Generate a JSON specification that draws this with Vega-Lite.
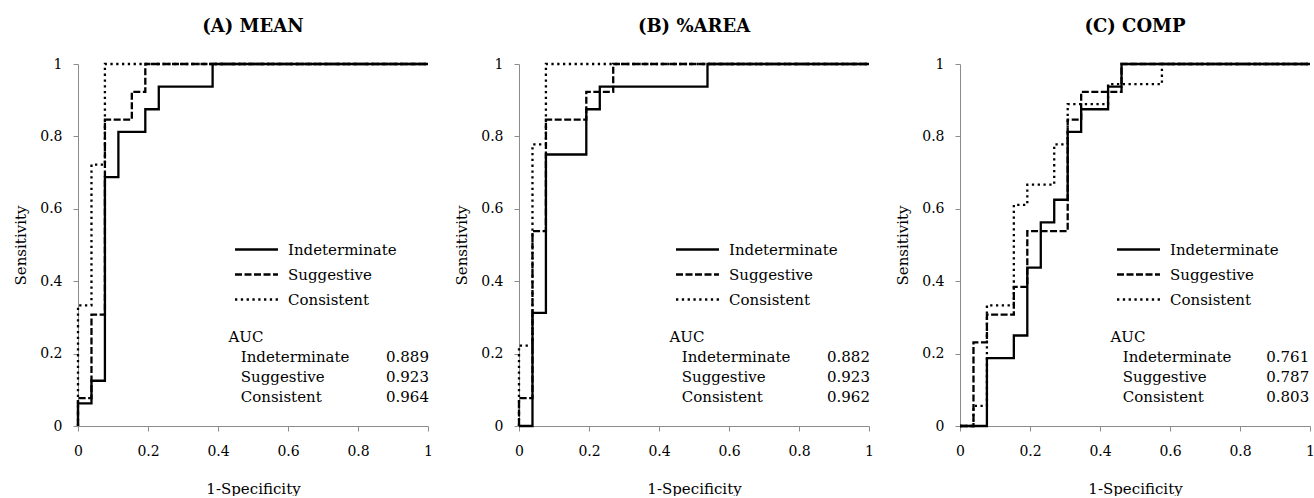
{
  "$schema": "https://vega.github.io/schema/vega-lite/v6.json",
  "padding": {"left": 13, "top": 18, "right": 0, "bottom": 0},
  "background": "white",
  "datasets": {
    "roc": [
      {"p": "A", "g": "Indeterminate", "fpr": 0, "tpr": 0},
      {"p": "A", "g": "Indeterminate", "fpr": 0, "tpr": 0.0625},
      {"p": "A", "g": "Indeterminate", "fpr": 0.0385, "tpr": 0.125},
      {"p": "A", "g": "Indeterminate", "fpr": 0.0769, "tpr": 0.6875},
      {"p": "A", "g": "Indeterminate", "fpr": 0.1154, "tpr": 0.8125},
      {"p": "A", "g": "Indeterminate", "fpr": 0.1923, "tpr": 0.875},
      {"p": "A", "g": "Indeterminate", "fpr": 0.2308, "tpr": 0.9375},
      {"p": "A", "g": "Indeterminate", "fpr": 0.3846, "tpr": 1},
      {"p": "A", "g": "Indeterminate", "fpr": 1, "tpr": 1},
      {"p": "A", "g": "Suggestive", "fpr": 0, "tpr": 0},
      {"p": "A", "g": "Suggestive", "fpr": 0, "tpr": 0.0769},
      {"p": "A", "g": "Suggestive", "fpr": 0.0385, "tpr": 0.3077},
      {"p": "A", "g": "Suggestive", "fpr": 0.0769, "tpr": 0.8462},
      {"p": "A", "g": "Suggestive", "fpr": 0.1538, "tpr": 0.9231},
      {"p": "A", "g": "Suggestive", "fpr": 0.1923, "tpr": 1},
      {"p": "A", "g": "Suggestive", "fpr": 1, "tpr": 1},
      {"p": "A", "g": "Consistent", "fpr": 0, "tpr": 0},
      {"p": "A", "g": "Consistent", "fpr": 0, "tpr": 0.3333},
      {"p": "A", "g": "Consistent", "fpr": 0.0385, "tpr": 0.7222},
      {"p": "A", "g": "Consistent", "fpr": 0.0769, "tpr": 1},
      {"p": "A", "g": "Consistent", "fpr": 1, "tpr": 1},
      {"p": "B", "g": "Indeterminate", "fpr": 0, "tpr": 0},
      {"p": "B", "g": "Indeterminate", "fpr": 0.0385, "tpr": 0.3125},
      {"p": "B", "g": "Indeterminate", "fpr": 0.0769, "tpr": 0.75},
      {"p": "B", "g": "Indeterminate", "fpr": 0.1923, "tpr": 0.875},
      {"p": "B", "g": "Indeterminate", "fpr": 0.2308, "tpr": 0.9375},
      {"p": "B", "g": "Indeterminate", "fpr": 0.5385, "tpr": 1},
      {"p": "B", "g": "Indeterminate", "fpr": 1, "tpr": 1},
      {"p": "B", "g": "Suggestive", "fpr": 0, "tpr": 0},
      {"p": "B", "g": "Suggestive", "fpr": 0, "tpr": 0.0769},
      {"p": "B", "g": "Suggestive", "fpr": 0.0385, "tpr": 0.5385},
      {"p": "B", "g": "Suggestive", "fpr": 0.0769, "tpr": 0.8462},
      {"p": "B", "g": "Suggestive", "fpr": 0.1923, "tpr": 0.9231},
      {"p": "B", "g": "Suggestive", "fpr": 0.2692, "tpr": 1},
      {"p": "B", "g": "Suggestive", "fpr": 1, "tpr": 1},
      {"p": "B", "g": "Consistent", "fpr": 0, "tpr": 0},
      {"p": "B", "g": "Consistent", "fpr": 0, "tpr": 0.2222},
      {"p": "B", "g": "Consistent", "fpr": 0.0385, "tpr": 0.7778},
      {"p": "B", "g": "Consistent", "fpr": 0.0769, "tpr": 1},
      {"p": "B", "g": "Consistent", "fpr": 1, "tpr": 1},
      {"p": "C", "g": "Indeterminate", "fpr": 0, "tpr": 0},
      {"p": "C", "g": "Indeterminate", "fpr": 0.0769, "tpr": 0.1875},
      {"p": "C", "g": "Indeterminate", "fpr": 0.1538, "tpr": 0.25},
      {"p": "C", "g": "Indeterminate", "fpr": 0.1923, "tpr": 0.4375},
      {"p": "C", "g": "Indeterminate", "fpr": 0.2308, "tpr": 0.5625},
      {"p": "C", "g": "Indeterminate", "fpr": 0.2692, "tpr": 0.625},
      {"p": "C", "g": "Indeterminate", "fpr": 0.3077, "tpr": 0.8125},
      {"p": "C", "g": "Indeterminate", "fpr": 0.3462, "tpr": 0.875},
      {"p": "C", "g": "Indeterminate", "fpr": 0.4231, "tpr": 0.9375},
      {"p": "C", "g": "Indeterminate", "fpr": 0.4615, "tpr": 1},
      {"p": "C", "g": "Indeterminate", "fpr": 1, "tpr": 1},
      {"p": "C", "g": "Suggestive", "fpr": 0, "tpr": 0},
      {"p": "C", "g": "Suggestive", "fpr": 0.0385, "tpr": 0.2308},
      {"p": "C", "g": "Suggestive", "fpr": 0.0769, "tpr": 0.3077},
      {"p": "C", "g": "Suggestive", "fpr": 0.1538, "tpr": 0.3846},
      {"p": "C", "g": "Suggestive", "fpr": 0.1923, "tpr": 0.5385},
      {"p": "C", "g": "Suggestive", "fpr": 0.3077, "tpr": 0.8462},
      {"p": "C", "g": "Suggestive", "fpr": 0.3462, "tpr": 0.9231},
      {"p": "C", "g": "Suggestive", "fpr": 0.4615, "tpr": 1},
      {"p": "C", "g": "Suggestive", "fpr": 1, "tpr": 1},
      {"p": "C", "g": "Consistent", "fpr": 0, "tpr": 0},
      {"p": "C", "g": "Consistent", "fpr": 0.0385, "tpr": 0.0556},
      {"p": "C", "g": "Consistent", "fpr": 0.0769, "tpr": 0.3333},
      {"p": "C", "g": "Consistent", "fpr": 0.1538, "tpr": 0.6111},
      {"p": "C", "g": "Consistent", "fpr": 0.1923, "tpr": 0.6667},
      {"p": "C", "g": "Consistent", "fpr": 0.2692, "tpr": 0.7778},
      {"p": "C", "g": "Consistent", "fpr": 0.3077, "tpr": 0.8889},
      {"p": "C", "g": "Consistent", "fpr": 0.4231, "tpr": 0.9444},
      {"p": "C", "g": "Consistent", "fpr": 0.5769, "tpr": 1},
      {"p": "C", "g": "Consistent", "fpr": 1, "tpr": 1}
    ],
    "auc": [
      {"p": "A", "name": "Indeterminate", "auc": "0.889"},
      {"p": "A", "name": "Suggestive", "auc": "0.923"},
      {"p": "A", "name": "Consistent", "auc": "0.964"},
      {"p": "B", "name": "Indeterminate", "auc": "0.882"},
      {"p": "B", "name": "Suggestive", "auc": "0.923"},
      {"p": "B", "name": "Consistent", "auc": "0.962"},
      {"p": "C", "name": "Indeterminate", "auc": "0.761"},
      {"p": "C", "name": "Suggestive", "auc": "0.787"},
      {"p": "C", "name": "Consistent", "auc": "0.803"}
    ],
    "head": [{"name": "AUC"}]
  },
  "spacing": 91,
  "bounds": "flush",
  "resolve": {
    "scale": {"strokeDash": "independent"},
    "legend": {"strokeDash": "independent"}
  },
  "hconcat": [
    {
      "width": 350,
      "height": 362,
      "title": {"text": "(A) MEAN"},
      "resolve": {"scale": {"y": "independent"}},
      "layer": [
        {
          "data": {"name": "roc"},
          "transform": [{"filter": "datum.p === 'A'"}],
          "mark": {"type": "line", "interpolate": "step-after", "color": "black", "strokeWidth": 2.3},
          "encoding": {
            "x": {"field": "fpr", "type": "quantitative", "title": "1-Specificity", "scale": {"domain": [0, 1]}, "axis": {"values": [0, 0.2, 0.4, 0.6, 0.8, 1]}},
            "y": {"field": "tpr", "type": "quantitative", "title": "Sensitivity", "scale": {"domain": [0, 1]}, "axis": {"values": [0, 0.2, 0.4, 0.6, 0.8, 1]}},
            "strokeDash": {"field": "g", "type": "nominal", "scale": {"domain": ["Indeterminate", "Suggestive", "Consistent"], "range": [[1, 0], [7, 2.5], [2.3, 3.5]]}},
            "order": [{"field": "fpr"}, {"field": "tpr"}]
          }
        },
        {
          "data": {"name": "head"},
          "mark": {"type": "text", "align": "left", "baseline": "middle", "font": "DejaVu Serif", "fontSize": 15},
          "encoding": {
            "x": {"datum": 0.43},
            "y": {"field": "name", "type": "nominal", "axis": null, "scale": {"type": "point", "padding": 0, "domain": ["AUC", "Indeterminate", "Suggestive", "Consistent"], "range": [273, 333]}},
            "text": {"field": "name"}
          }
        },
        {
          "data": {"name": "auc"},
          "transform": [{"filter": "datum.p === 'A'"}],
          "mark": {"type": "text", "align": "left", "baseline": "middle", "font": "DejaVu Serif", "fontSize": 15},
          "encoding": {
            "x": {"datum": 0.465},
            "y": {"field": "name", "type": "nominal", "axis": null, "scale": {"type": "point", "padding": 0, "domain": ["AUC", "Indeterminate", "Suggestive", "Consistent"], "range": [273, 333]}},
            "text": {"field": "name"}
          }
        },
        {
          "data": {"name": "auc"},
          "transform": [{"filter": "datum.p === 'A'"}],
          "mark": {"type": "text", "align": "left", "baseline": "middle", "font": "DejaVu Serif", "fontSize": 15},
          "encoding": {
            "x": {"datum": 0.88},
            "y": {"field": "name", "type": "nominal", "axis": null, "scale": {"type": "point", "padding": 0, "domain": ["AUC", "Indeterminate", "Suggestive", "Consistent"], "range": [273, 333]}},
            "text": {"field": "auc"}
          }
        }
      ]
    },
    {
      "width": 350,
      "height": 362,
      "title": {"text": "(B) %AREA"},
      "resolve": {"scale": {"y": "independent"}},
      "layer": [
        {
          "data": {"name": "roc"},
          "transform": [{"filter": "datum.p === 'B'"}],
          "mark": {"type": "line", "interpolate": "step-after", "color": "black", "strokeWidth": 2.3},
          "encoding": {
            "x": {"field": "fpr", "type": "quantitative", "title": "1-Specificity", "scale": {"domain": [0, 1]}, "axis": {"values": [0, 0.2, 0.4, 0.6, 0.8, 1]}},
            "y": {"field": "tpr", "type": "quantitative", "title": "Sensitivity", "scale": {"domain": [0, 1]}, "axis": {"values": [0, 0.2, 0.4, 0.6, 0.8, 1]}},
            "strokeDash": {"field": "g", "type": "nominal", "scale": {"domain": ["Indeterminate", "Suggestive", "Consistent"], "range": [[1, 0], [7, 2.5], [2.3, 3.5]]}},
            "order": [{"field": "fpr"}, {"field": "tpr"}]
          }
        },
        {
          "data": {"name": "head"},
          "mark": {"type": "text", "align": "left", "baseline": "middle", "font": "DejaVu Serif", "fontSize": 15},
          "encoding": {
            "x": {"datum": 0.43},
            "y": {"field": "name", "type": "nominal", "axis": null, "scale": {"type": "point", "padding": 0, "domain": ["AUC", "Indeterminate", "Suggestive", "Consistent"], "range": [273, 333]}},
            "text": {"field": "name"}
          }
        },
        {
          "data": {"name": "auc"},
          "transform": [{"filter": "datum.p === 'B'"}],
          "mark": {"type": "text", "align": "left", "baseline": "middle", "font": "DejaVu Serif", "fontSize": 15},
          "encoding": {
            "x": {"datum": 0.465},
            "y": {"field": "name", "type": "nominal", "axis": null, "scale": {"type": "point", "padding": 0, "domain": ["AUC", "Indeterminate", "Suggestive", "Consistent"], "range": [273, 333]}},
            "text": {"field": "name"}
          }
        },
        {
          "data": {"name": "auc"},
          "transform": [{"filter": "datum.p === 'B'"}],
          "mark": {"type": "text", "align": "left", "baseline": "middle", "font": "DejaVu Serif", "fontSize": 15},
          "encoding": {
            "x": {"datum": 0.88},
            "y": {"field": "name", "type": "nominal", "axis": null, "scale": {"type": "point", "padding": 0, "domain": ["AUC", "Indeterminate", "Suggestive", "Consistent"], "range": [273, 333]}},
            "text": {"field": "auc"}
          }
        }
      ]
    },
    {
      "width": 350,
      "height": 362,
      "title": {"text": "(C) COMP"},
      "resolve": {"scale": {"y": "independent"}},
      "layer": [
        {
          "data": {"name": "roc"},
          "transform": [{"filter": "datum.p === 'C'"}],
          "mark": {"type": "line", "interpolate": "step-after", "color": "black", "strokeWidth": 2.3},
          "encoding": {
            "x": {"field": "fpr", "type": "quantitative", "title": "1-Specificity", "scale": {"domain": [0, 1]}, "axis": {"values": [0, 0.2, 0.4, 0.6, 0.8, 1]}},
            "y": {"field": "tpr", "type": "quantitative", "title": "Sensitivity", "scale": {"domain": [0, 1]}, "axis": {"values": [0, 0.2, 0.4, 0.6, 0.8, 1]}},
            "strokeDash": {"field": "g", "type": "nominal", "scale": {"domain": ["Indeterminate", "Suggestive", "Consistent"], "range": [[1, 0], [7, 2.5], [2.3, 3.5]]}},
            "order": [{"field": "fpr"}, {"field": "tpr"}]
          }
        },
        {
          "data": {"name": "head"},
          "mark": {"type": "text", "align": "left", "baseline": "middle", "font": "DejaVu Serif", "fontSize": 15},
          "encoding": {
            "x": {"datum": 0.43},
            "y": {"field": "name", "type": "nominal", "axis": null, "scale": {"type": "point", "padding": 0, "domain": ["AUC", "Indeterminate", "Suggestive", "Consistent"], "range": [273, 333]}},
            "text": {"field": "name"}
          }
        },
        {
          "data": {"name": "auc"},
          "transform": [{"filter": "datum.p === 'C'"}],
          "mark": {"type": "text", "align": "left", "baseline": "middle", "font": "DejaVu Serif", "fontSize": 15},
          "encoding": {
            "x": {"datum": 0.465},
            "y": {"field": "name", "type": "nominal", "axis": null, "scale": {"type": "point", "padding": 0, "domain": ["AUC", "Indeterminate", "Suggestive", "Consistent"], "range": [273, 333]}},
            "text": {"field": "name"}
          }
        },
        {
          "data": {"name": "auc"},
          "transform": [{"filter": "datum.p === 'C'"}],
          "mark": {"type": "text", "align": "left", "baseline": "middle", "font": "DejaVu Serif", "fontSize": 15},
          "encoding": {
            "x": {"datum": 0.875},
            "y": {"field": "name", "type": "nominal", "axis": null, "scale": {"type": "point", "padding": 0, "domain": ["AUC", "Indeterminate", "Suggestive", "Consistent"], "range": [273, 333]}},
            "text": {"field": "auc"}
          }
        }
      ]
    }
  ],
  "config": {
    "view": {"stroke": null},
    "font": "DejaVu Serif",
    "title": {"font": "DejaVu Serif", "fontSize": 18, "fontWeight": "bold", "color": "black", "anchor": "middle", "offset": 21},
    "axis": {
      "grid": false,
      "domainColor": "#8c8c8c",
      "tickColor": "#8c8c8c",
      "tickSize": 5,
      "labelFont": "DejaVu Serif",
      "labelFontSize": 14,
      "labelColor": "black",
      "titleFont": "DejaVu Serif",
      "titleFontSize": 15,
      "titleFontWeight": "normal",
      "titleColor": "black",
      "format": "~g"
    },
    "axisX": {"labelPadding": 13, "titlePadding": 23, "labelFlush": false},
    "axisY": {"labelPadding": 11, "titlePadding": 11, "labelFlush": false},
    "legend": {
      "orient": "none",
      "legendX": 170,
      "legendY": 177,
      "title": null,
      "symbolType": "M-3,0L3,0",
      "symbolSize": 205,
      "symbolStrokeWidth": 2.4,
      "symbolStrokeColor": "black",
      "symbolFillColor": "transparent",
      "labelOffset": 23,
      "labelFont": "DejaVu Serif",
      "labelFontSize": 15,
      "labelColor": "black",
      "rowPadding": 8,
      "padding": 0
    }
  }
}
